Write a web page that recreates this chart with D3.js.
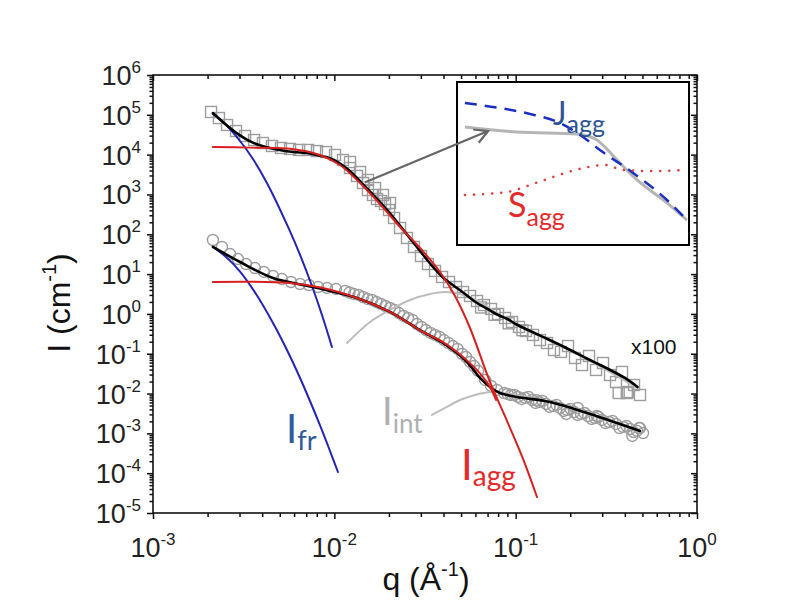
<!DOCTYPE html>
<html><head><meta charset="utf-8">
<script src="https://cdn.jsdelivr.net/npm/d3@7/dist/d3.min.js"></script>
<style>body{margin:0;background:#fff}</style>
</head><body>
<svg id="c" width="800" height="610"></svg>
<script>
// ---------- data ----------
const xTickExps = [-3, -2, -1, 0];
const yTickExps = [6, 5, 4, 3, 2, 1, 0, -1, -2, -3, -4, -5];

// upper dataset (x100), open squares
const upperSquares = [
 [0.00209,1.18e5],[0.00231,8.3e4],[0.00256,5.55e4],[0.00287,3.92e4],[0.00322,2.94e4],[0.00361,2.33e4],
 [0.00404,1.96e4],[0.00453,1.65e4],[0.00508,1.47e4],[0.0057,1.39e4],[0.00639,1.31e4],[0.00716,1.31e4],
 [0.00802,1.23e4],[0.009,1.16e4],[0.01009,9.8e3],[0.01116,7.33e3],[0.0122,4.61e3],[0.01334,2.91e3],
 [0.01439,1.94e3],[0.01533,1.29e3],[0.01634,969],[0.01719,769],[0.01809,685],[0.01903,576],[0.02002,407],
 [0.02134,256],[0.02304,144],[0.02516,80.7],[0.0275,48.0],[0.03006,28.5],[0.03285,17.9],[0.03591,12.0],
 [0.03925,8.46],[0.0429,6.33],[0.04688,4.74],[0.05124,3.55],[0.056,2.82],[0.06121,2.11],[0.0669,1.67],
 [0.07311,1.33],[0.07991,0.995],[0.08734,0.79],[0.09546,0.627],[0.1043,0.47],[0.114,0.372],[0.1246,0.296],
 [0.1362,0.221],[0.1489,0.186],[0.1627,0.124],[0.1778,0.111],[0.1944,0.156],[0.2125,0.0782],[0.2322,0.0521],
 [0.2538,0.0877],[0.2774,0.0391],[0.3032,0.0585],[0.3314,0.0292],[0.3575,0.0195],[0.3859,0.0348],
 [0.4164,0.0109],[0.4494,0.0164],[0.485,0.0092],[0.37,0.0103],[0.41,0.0103],
 [0.0122,6.53e3],[0.01386,3.66e3],[0.01533,2.31e3],[0.01676,1.45e3],[0.01855,969],[0.02028,611],
 [0.0645,1.45],[0.0765,0.95],[0.0915,0.58],[0.109,0.39]
];
// lower dataset, open circles
const lowerQ = [0.00214,0.0024,0.00266,0.00294,0.00326,0.00365,0.00409,0.00459,0.00514,0.00577,0.00647,
 0.00725,0.00813,0.00911,0.0102,0.01145,0.01284,0.01439,0.01613,0.01809,0.02028,0.02273,0.02549,0.02858,
 0.03204,0.03591,0.04027,0.04514,0.05061,0.056,0.06198,0.06775,0.07311,0.07891,0.08625,0.09426,0.103,
 0.1126,0.1231,0.1345,0.147,0.1607,0.1756,0.1919,0.2098,0.2293,0.2506,0.2739,0.2993,0.3272,0.3575,0.3908,
 0.4271,0.4668,0.5039,0.13,0.19,0.22,0.28,0.44,0.48,
 0.01213,0.0136,0.01524,0.01708,0.01915,0.02147,0.02407,0.02698,0.03025,0.03391,0.03802,0.04262,0.04779,
 0.05322,0.05891,0.09016,0.09853,0.1077,0.1177,0.1287,0.1406,0.1537,0.168,0.1836,0.2006,0.2193,0.2397,
 0.262,0.2863,0.3129,0.342,0.3738,0.4085,0.4465,0.485];
const lowerI = [71.8,48.0,32.0,23.9,17.9,14.2,11.3,8.96,7.53,6.33,5.64,5.32,4.74,4.48,4.23,3.77,3.16,2.66,
 2.24,1.78,1.41,1.05,0.79,0.558,0.394,0.296,0.221,0.156,0.0986,0.0621,0.0369,0.0219,0.0155,0.0123,0.0103,
 0.0092,0.0082,0.00774,0.00689,0.00614,0.00547,0.00488,0.00434,0.00387,0.00344,0.00307,0.00273,0.00243,
 0.00217,0.00193,0.00172,0.00145,0.00129,0.00115,0.00102,0.00680,0.00307,0.00434,0.00273,0.00086,0.00136,
 3.45,2.99,2.37,1.99,1.58,1.26,0.887,0.703,0.47,0.332,0.263,0.186,0.132,
 0.0828,0.0492,0.00975,0.0092,0.0073,0.0082,0.0058,0.0065,0.0046,0.00516,0.00365,0.0041,0.0029,0.00325,
 0.0023,0.00258,0.00182,0.00205,0.00136,0.00153,0.00108,0.00136];

// model curves
const upperFit = [[0.00214,1.11e5],[0.0025,5.9e4],[0.003,3.1e4],[0.0035,2.07e4],[0.004,1.65e4],[0.005,1.31e4],
 [0.006,1.16e4],[0.007,1.10e4],[0.008,9.8e3],[0.009,8.7e3],[0.01,7.3e3],[0.012,4.1e3],[0.014,2.05e3],
 [0.016,1.09e3],[0.018,611],[0.02,363],[0.025,102],[0.03,35.9],[0.035,15.1],[0.04,7.98],[0.045,5.32],
 [0.05,3.77],[0.06,1.99],[0.07,1.33],[0.08,0.94],[0.09,0.745],[0.1,0.558],[0.12,0.372],[0.15,0.234],
 [0.2,0.124],[0.25,0.0738],[0.3,0.0492],[0.4,0.0246],[0.47,0.0146]];
const lowerFit = [[0.00214,48.0],[0.00302,20.1],[0.00459,7.98],[0.00763,4.74],[0.01334,2.51],[0.02028,1.12],
 [0.03083,0.352],[0.03975,0.186],[0.05391,0.0621],[0.06357,0.0246],[0.07219,0.0146],[0.08195,0.0103],
 [0.1017,0.0082],[0.1546,0.00614],[0.257,0.00307],[0.485,0.00115]];
const upperFr = [[0.00214,1.05e5],[0.0025,5.88e4],[0.00302,2.2e4],[0.00356,7.77e3],[0.00425,1.94e3],
 [0.00562,136],[0.00647,30.2],[0.00753,5.02],[0.00855,0.94],[0.0097,0.148]];
const lowerFr = [[0.00214,48.0],[0.00253,26.9],[0.00302,11.6],[0.0037,3.16],[0.00459,0.592],[0.00548,0.124],
 [0.00647,0.0246],[0.00734,0.0065],[0.00834,1.58e-3],[0.00935,4.17e-4],[0.01047,1.07e-4]];
const upperAgg = [[0.00214,1.56e4],[0.00343,1.5e4],[0.0057,1.4e4],[0.0083,9.8e3],[0.01075,5.5e3],
 [0.01386,1.94e3],[0.01786,576],[0.02304,152],[0.02968,45.2],[0.03825,11.3],[0.04629,2.82],[0.056,0.443],
 [0.07219,0.0195],[0.08959,0.00205],[0.1098,2.28e-4],[0.1311,2.52e-5]];
const lowerAgg = [[0.00214,6.33],[0.0057,5.98],[0.00866,4.48],[0.01334,2.51],[0.02028,1.12],[0.03083,0.352],
 [0.03975,0.195],[0.05391,0.068],[0.06357,0.032],[0.07219,0.0146],[0.07792,0.00689]];
const upperInt = [[0.01175,0.186],[0.01573,0.627],[0.02028,1.26],[0.02614,2.24],[0.0337,3.16],[0.04076,3.55],
 [0.04932,3.16],[0.06357,1.99],[0.07691,1.12],[0.1056,0.47],[0.1546,0.209],[0.257,0.0658],[0.4668,0.0138]];
const lowerInt = [[0.03456,0.0029],[0.04076,0.00434],[0.04932,0.00689],[0.05967,0.0092],[0.07219,0.0109],
 [0.08734,0.0103],[0.1056,0.0087],[0.1546,0.00614],[0.257,0.0029],[0.485,0.00108]];

// inset (normalised coordinates inside the inset box)
const insetJagg = [[0.034,0.871],[0.185,0.840],[0.315,0.804],[0.444,0.748],[0.543,0.663],[0.616,0.583],
 [0.759,0.442],[0.905,0.276],[0.991,0.153]];
const insetIagg = [[0.034,0.724],[0.259,0.693],[0.517,0.681],[0.603,0.644],[0.690,0.521],[0.776,0.399],
 [0.905,0.258],[0.991,0.153]];
const insetSagg = [[0.034,0.307],[0.216,0.325],[0.315,0.368],[0.401,0.411],[0.543,0.472],[0.638,0.491],
 [0.716,0.460],[0.832,0.454],[0.991,0.460]];
const arrowFrom = [0.0147, 2000];   // data coords
const arrowTo = [0.134, 0.699];     // inset coords

// ---------- drawing ----------
const svg = d3.select('#c');
const FONT = 'Arial, "Liberation Sans", sans-serif';
const LFONT = 'Lato, "Open Sans", sans-serif';
const x = d3.scaleLog().domain([1e-3, 1]).range([153, 697]);
const y = d3.scaleLog().domain([1e-5, 1e6]).range([513, 75]);

const majX = xTickExps.map(e => Math.pow(10, e));
const minX = [];
for (let e = -3; e < 0; e++) for (let m = 2; m <= 9; m++) minX.push(m * Math.pow(10, e));
const majY = yTickExps.map(e => Math.pow(10, e));
const minY = [];
for (let e = -5; e < 6; e++) for (let m = 2; m <= 9; m++) minY.push(m * Math.pow(10, e));

function axisG(gen, tr, vals, size) {
  const g = svg.append('g').attr('transform', tr)
    .call(gen.tickValues(vals).tickSize(size).tickFormat(''));
  g.select('.domain').remove();
  g.selectAll('line').attr('stroke', '#111').attr('stroke-width', 1.5);
}
axisG(d3.axisBottom(x), 'translate(0,513)', majX, 6);
axisG(d3.axisBottom(x), 'translate(0,513)', minX, 4);
axisG(d3.axisTop(x), 'translate(0,75)', majX, -6);
axisG(d3.axisTop(x), 'translate(0,75)', minX, -4);
axisG(d3.axisLeft(y), 'translate(153,0)', majY, 6);
axisG(d3.axisLeft(y), 'translate(153,0)', minY, 3.5);
axisG(d3.axisRight(y), 'translate(697,0)', majY, -6);
axisG(d3.axisRight(y), 'translate(697,0)', minY, -3.5);

svg.append('rect').attr('x', 153).attr('y', 75).attr('width', 544).attr('height', 438)
  .attr('fill', 'none').attr('stroke', '#111').attr('stroke-width', 1.6);

// tick labels
xTickExps.forEach(e => {
  const t = svg.append('text').attr('x', x(Math.pow(10, e))).attr('y', 557)
    .attr('text-anchor', 'middle').attr('font-family', FONT).attr('font-size', 27).attr('fill', '#222');
  t.append('tspan').text('10');
  t.append('tspan').attr('dy', -12).attr('font-size', 17).text(String(e));
});
yTickExps.forEach(e => {
  const t = svg.append('text').attr('x', 141).attr('y', y(Math.pow(10, e)) + 10)
    .attr('text-anchor', 'end').attr('font-family', FONT).attr('font-size', 27).attr('fill', '#222');
  t.append('tspan').text('10');
  t.append('tspan').attr('dy', -12).attr('font-size', 17).text(String(e));
});

// axis titles
const xt = svg.append('text').attr('x', 426).attr('y', 590).attr('text-anchor', 'middle')
  .attr('font-family', FONT).attr('font-size', 32).attr('fill', '#111');
xt.append('tspan').text('q (Å');
xt.append('tspan').attr('dy', -14).attr('font-size', 20).text('-1');
xt.append('tspan').attr('dy', 14).text(')');
const yt = svg.append('text').attr('transform', 'translate(70,303) rotate(-90)').attr('text-anchor', 'middle')
  .attr('font-family', FONT).attr('font-size', 32).attr('fill', '#111');
yt.append('tspan').text('I (cm');
yt.append('tspan').attr('dy', -14).attr('font-size', 20).text('-1');
yt.append('tspan').attr('dy', 14).text(')');

const line = d3.line().x(d => x(d[0])).y(d => y(d[1])).curve(d3.curveCatmullRom.alpha(0.5));
const plot = svg.append('g');
function curve(data, color, w) {
  plot.append('path').attr('d', line(data)).attr('fill', 'none').attr('stroke', color)
    .attr('stroke-width', w).attr('stroke-linecap', 'round');
}

// markers
const MK = '#9d9d9d';
plot.append('g').selectAll('rect').data(upperSquares).join('rect')
  .attr('x', d => x(d[0]) - 5.5).attr('y', d => y(d[1]) - 5.5).attr('width', 11).attr('height', 11)
  .attr('fill', 'none').attr('stroke', MK).attr('stroke-width', 1.4);
plot.append('g').selectAll('circle').data(lowerQ.map((q, i) => [q, lowerI[i]])).join('circle')
  .attr('cx', d => x(d[0])).attr('cy', d => y(d[1])).attr('r', 5.5)
  .attr('fill', 'none').attr('stroke', MK).attr('stroke-width', 1.4);

curve(upperFr, '#2424b8', 2);
curve(lowerFr, '#2424b8', 2);
curve(upperInt, '#bdbdbd', 2);
curve(lowerInt, '#bdbdbd', 2);
curve(upperFit, '#000', 2.6);
curve(lowerFit, '#000', 2.6);
curve(upperAgg, '#d8201e', 2);
curve(lowerAgg, '#d8201e', 2);

// inset
const ix = d3.scaleLinear().domain([0, 1]).range([457, 689]);
const iy = d3.scaleLinear().domain([0, 1]).range([245, 82]);
svg.append('rect').attr('x', ix(0)).attr('y', iy(1)).attr('width', ix(1) - ix(0)).attr('height', iy(0) - iy(1))
  .attr('fill', '#fff').attr('stroke', '#000').attr('stroke-width', 2);
const iline = d3.line().x(d => ix(d[0])).y(d => iy(d[1])).curve(d3.curveMonotoneX);
svg.append('path').attr('d', iline(insetIagg)).attr('fill', 'none').attr('stroke', '#b5b5b5').attr('stroke-width', 3);
svg.append('path').attr('d', iline(insetJagg)).attr('fill', 'none').attr('stroke', '#1c2fc0')
  .attr('stroke-width', 2.5).attr('stroke-dasharray', '12,8');
svg.append('path').attr('d', iline(insetSagg)).attr('fill', 'none').attr('stroke', '#e03a3a')
  .attr('stroke-width', 2.5).attr('stroke-dasharray', '0.1,9').attr('stroke-linecap', 'round');

// arrow
const ax0 = x(arrowFrom[0]), ay0 = y(arrowFrom[1]), ax1 = ix(arrowTo[0]), ay1 = iy(arrowTo[1]);
const ang = Math.atan2(ay1 - ay0, ax1 - ax0);
const hl = 15, ha = 0.5;
svg.append('path')
  .attr('d', `M${ax0},${ay0}L${ax1},${ay1}` +
    `M${ax1 - hl * Math.cos(ang - ha)},${ay1 - hl * Math.sin(ang - ha)}L${ax1},${ay1}` +
    `L${ax1 - hl * Math.cos(ang + ha)},${ay1 - hl * Math.sin(ang + ha)}`)
  .attr('fill', 'none').attr('stroke', '#666').attr('stroke-width', 2.2).attr('stroke-linejoin', 'miter');

// curve labels
function subLabel(xp, yp, main, sub, color, fs, sfs, dy) {
  const t = svg.append('text').attr('x', xp).attr('y', yp).attr('font-family', LFONT)
    .attr('font-size', fs).attr('fill', color);
  t.append('tspan').text(main);
  t.append('tspan').attr('dy', dy).attr('font-size', sfs).text(sub);
}
subLabel(553, 125, 'J', 'agg', '#2e5593', 32, 25, 8);
subLabel(508, 217, 'S', 'agg', '#e52a2a', 34, 25, 9);
subLabel(286, 443, 'I', 'fr', '#2e5c9c', 40, 27, 7);
subLabel(382, 425, 'I', 'int', '#b0b0b0', 38, 26, 8);
subLabel(461, 480, 'I', 'agg', '#e52a2a', 42, 28, 6);

svg.append('text').attr('x', 631).attr('y', 354).attr('font-family', FONT).attr('font-size', 21)
  .attr('fill', '#111').text('x100');
</script>
</body></html>
